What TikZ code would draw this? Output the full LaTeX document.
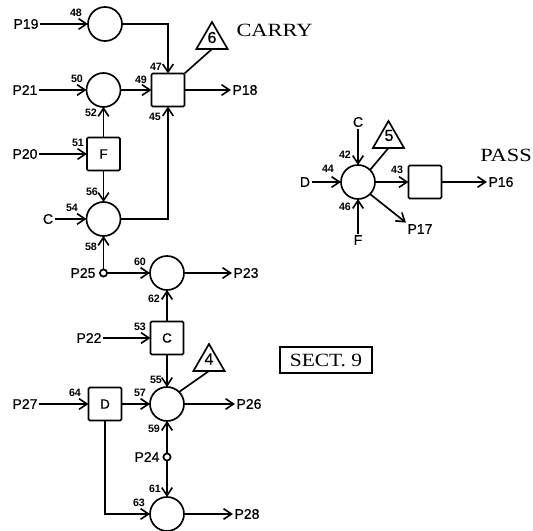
\documentclass[tikz,border=0pt]{standalone}
\usepackage{fontspec}
\setmainfont{Liberation Serif}
\newfontfamily\heros[FakeBold=0.6]{Liberation Sans}
\newfontfamily\herosb{Liberation Sans Bold}
\usetikzlibrary{arrows.meta,shapes.geometric,calc}
\tikzset{
  conn/.style={draw,-{Straight Barb[length=6pt,width=8pt,line width=1.2pt]}},
  plain/.style={draw},
  gate/.style={draw,circle,minimum size=25.5pt,inner sep=0pt,outer sep=0pt},
  box/.style={draw,rectangle,rounded corners=1pt,minimum size=24.8pt,inner sep=0pt,outer sep=0pt,font=\heros\fontsize{10}{10}\selectfont},
  tri/.style={draw,regular polygon,regular polygon sides=3,minimum size=27pt,inner sep=0pt,outer sep=0pt},
  tap/.style={draw,circle,minimum size=5.4pt,inner sep=0pt,outer sep=0pt},
  sig/.style={font=\heros\fontsize{10.5}{10.5}\selectfont,inner sep=1.2pt,outer sep=0pt},
  num/.style={font=\herosb\fontsize{8}{8}\selectfont,inner sep=0pt},
  digit/.style={font=\heros\fontsize{12}{12}\selectfont,inner sep=0pt},
  title/.style={font=\fontsize{14}{14}\selectfont,inner sep=0pt},
}
\begin{document}
\begin{tikzpicture}[x=0.75pt,y=-0.75pt,line width=1.25pt]
\useasboundingbox[fill=white] (0,0) rectangle (533,531);
% gates and boxes
\node[gate] (c48) at (105,24) {};
\node[gate] (c50) at (103.5,90) {};
\node[box]  (s49) at (168,90) {};
\node[box]  (F)   at (103.5,154) {F};
\node[gate] (c54) at (103.5,219) {};
\node[gate] (c60) at (167,273) {};
\node[box]  (C)   at (167,338) {C};
\node[gate] (c57) at (167,404) {};
\node[box]  (D)   at (105,404) {D};
\node[gate] (c63) at (167,514) {};
\node[tap]  (t25) at (103.5,273) {};
\node[tap]  (t24) at (167,457) {};
\node[gate] (c42) at (358,182) {};
\node[box]  (s43) at (425,182) {};
% triangles
\node[tri] (tri6) at (212,40) {};
\node[tri] (tri4) at (209,362) {};
\node[tri] (tri5) at (388.5,139) {};
\node[digit] (d6) at (212,37.5) {6};
\node[digit] (d4) at (209,359) {4};
\node[digit] (d5) at (389,135.5) {5};
% signals
\node[sig] (P19) at (26,24) {P19};
\node[sig] (P21) at (25,90) {P21};
\node[sig] (P20) at (25,154) {P20};
\node[sig] (Cin) at (48,219) {C};
\node[sig] (P18) at (245,90) {P18};
\node[sig] (P25) at (83,273) {P25};
\node[sig] (P23) at (246,273) {P23};
\node[sig] (P22) at (89,338) {P22};
\node[sig] (P27) at (25,404) {P27};
\node[sig] (P26) at (249,404) {P26};
\node[sig] (P24) at (147,457) {P24};
\node[sig] (P28) at (247,514) {P28};
\node[sig] (Cr) at (358,122) {C};
\node[sig] (Dr) at (305,182) {D};
\node[sig] (Fr) at (358,240) {F};
\node[sig] (P16) at (501,182) {P16};
\node[sig] (P17) at (420,229) {P17};
% numbers
\foreach \n/\a/\b in {48/76/13,50/77/79,52/91/113,51/78/143,56/92/192,54/72/208,58/91/247,47/156/67,49/141/80,45/155/117,60/140/262,62/154/299,53/140/327,55/156/380,57/140/393,64/75/393,59/154/429,61/155/489,63/139/503,42/345/155,44/328/169,43/397/170,46/345/207}
  \node[num] (n\n) at (\a,\b) {\n};
% titles
\node[title] (carry) at (274.5,30) {\scalebox{1.2}[1]{CARRY}};
\node[title] (pass) at (506,155) {\scalebox{1.2}[1]{PASS}};
\node[title,draw,line width=1.4pt,minimum width=69pt,minimum height=19.5pt] (sect) at (326,360) {\scalebox{1.15}[1]{SECT. 9}};
% connectors
\draw[conn] (P19) -- (c48);
\draw[conn] (P21) -- (c50);
\draw[conn] (c50) -- (s49);
\draw[conn] (c48.east) -| (s49.north);
\draw[conn] (c54.east) -| (s49.south);
\draw[conn] (s49) -- (P18);
\draw[plain] (s49.north east) -- (tri6.side 2);
\draw[conn] (P20) -- (F);
\draw[conn] (F) -- (c50);
\draw[conn] (F) -- (c54);
\draw[conn] (Cin) -- (c54);
\draw[conn] (t25) -- (c54);
\draw[conn] (t25) -- (c60);
\draw[conn] (c60) -- (P23);
\draw[conn] (C) -- (c60);
\draw[conn] (P22) -- (C);
\draw[conn] (C) -- (c57);
\draw[conn] (D) -- (c57);
\draw[conn] (P27) -- (D);
\draw[conn] (c57) -- (P26);
\draw[plain] (c57.north east) -- (tri4.side 2);
\draw[conn] (t24) -- (c57);
\draw[conn] (t24) -- (c63);
\draw[conn] (D.south) |- (c63.west);
\draw[conn] (c63) -- (P28);
\draw[conn] (Cr) -- (c42);
\draw[conn] (Dr) -- (c42);
\draw[conn] (Fr) -- (c42);
\draw[conn] (c42) -- (s43);
\draw[conn] (s43) -- (P16);
\draw[conn] (c42.south east) -- (P17.north west);
\draw[plain] (c42.north east) -- (tri5.side 2);
\end{tikzpicture}
\end{document}
